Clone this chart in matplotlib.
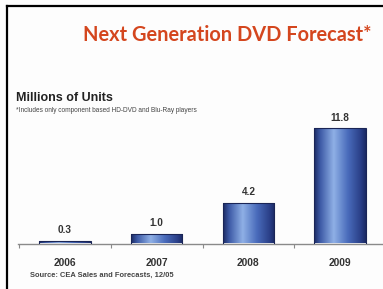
import matplotlib
matplotlib.use("Agg")
import matplotlib.pyplot as plt
import numpy as np
from matplotlib.colors import LinearSegmentedColormap
from matplotlib.patches import Rectangle
from matplotlib import font_manager
from matplotlib.font_manager import FontProperties
from matplotlib.textpath import TextPath

years = ["2006", "2007", "2008", "2009"]
units = [0.3, 1.0, 4.2, 11.8]
labels = ["0.3", "1.0", "4.2", "11.8"]

title = "Next Generation DVD Forecast*"
ylabel_txt = "Millions of Units"
note_txt = "*Includes only component based HD-DVD and Blu-Ray players"
source_txt = "Source: CEA Sales and Forecasts, 12/05"

names = {f.name for f in font_manager.fontManager.ttflist}
body_font = "Liberation Sans" if "Liberation Sans" in names else "DejaVu Sans"


def _wnum(w):
    try:
        return int(w)
    except Exception:
        return {"bold": 700, "heavy": 800, "black": 900, "semibold": 600,
                "demibold": 600, "extra bold": 800}.get(str(w).lower(), 400)


def pick_title_font(target_ratio):
    ok_fam = ("liberation sans", "roboto", "noto sans", "open sans", "lato", "inter", "dejavu sans")
    best = None
    seen = set()
    for f in font_manager.fontManager.ttflist:
        nm = f.name.lower()
        fn = f.fname.lower()
        if f.fname in seen:
            continue
        seen.add(f.fname)
        if not nm.startswith(ok_fam) or "mono" in nm or "cjk" in nm or "serif" in nm:
            continue
        if "italic" in fn or "oblique" in fn or str(f.style) != "normal":
            continue
        w = _wnum(f.weight)
        if w < 700 or w > 800:
            continue
        try:
            fp = FontProperties(fname=f.fname, size=20)
            cap = TextPath((0, 0), "N", prop=fp).get_extents().height
            wid = TextPath((0, 0), title, prop=fp).get_extents().width
        except Exception:
            continue
        ratio = cap / wid
        score = abs(ratio - target_ratio)
        if best is None or score < best[0]:
            best = (score, f.fname)
    if best is None:
        return FontProperties(family=body_font, weight="bold")
    return FontProperties(fname=best[1])


TITLE_W, TITLE_CAP = 289.0, 15.0
title_fp = pick_title_font(TITLE_CAP / TITLE_W)

W, H = 383, 289
fig = plt.figure(figsize=(W / 100, H / 100), dpi=100)
fig.patch.set_facecolor("#fdfdfd")

# border lines (top and left, black)
fig.add_artist(plt.Line2D([6.5 / W, 6.5 / W], [0, 1 - 6 / H], color="black", lw=1.6))
fig.add_artist(plt.Line2D([6.5 / W, 1], [1 - 6 / H, 1 - 6 / H], color="black", lw=1.6))

# axes placement
ax_left = 18 / W
ax_bottom = (H - 243.5) / H
ax_h = 135 / H
ax = fig.add_axes([ax_left, ax_bottom, 1 - ax_left, ax_h])
ax.set_facecolor("none")
for s in ["top", "right", "left"]:
    ax.spines[s].set_visible(False)
ax.spines["bottom"].set_color("#8a8a8a")
ax.spines["bottom"].set_linewidth(1.0)
ax.set_yticks([])
ax.set_xticks([-0.5, 0.5, 1.5, 2.5])
ax.tick_params(axis="x", length=3, color="#8a8a8a", labelbottom=False)

x = np.arange(len(years))
width = 0.56
bars = ax.bar(x, units, width=width, color="none", edgecolor="#1a2556", linewidth=0.8, zorder=3)

cmap = LinearSegmentedColormap.from_list(
    "barg", [(0.0, "#1b2a63"), (0.12, "#3d5aa6"), (0.38, "#8fb0e6"),
             (0.65, "#4a6cbc"), (0.9, "#2a3f88"), (1.0, "#1b2a63")])
grad = np.linspace(0, 1, 256).reshape(1, -1)
for b in bars:
    bx, by = b.get_x(), b.get_y()
    bw, bh = b.get_width(), b.get_height()
    im = ax.imshow(grad, cmap=cmap, aspect="auto", extent=[bx, bx + bw, by, by + bh],
                   zorder=2, interpolation="bilinear")
    clip = Rectangle((bx, by), bw, bh, transform=ax.transData)
    im.set_clip_path(clip)

for xi, v, lab in zip(x, units, labels):
    ax.annotate(lab, (xi, v), xytext=(0, 4), textcoords="offset points",
                ha="center", va="bottom", fontsize=7.2, fontweight="bold",
                color="#333333", family=body_font)
for xi, yr in zip(x, years):
    ax.annotate(yr, (xi, 0), xytext=(0, -10.5), textcoords="offset points",
                ha="center", va="top", fontsize=7.4, fontweight="bold",
                color="#333333", family=body_font, annotation_clip=False)

t = fig.text(227.5 / W, 1 - 35 / H, title, ha="center", va="center",
             fontproperties=title_fp, color="#d4461e")
t.set_fontsize(15)
fig.text(16 / W, 1 - 98 / H, ylabel_txt, ha="left", va="center", fontsize=9.0,
         fontweight="bold", color="#222222", family=body_font)
fig.text(16 / W, 1 - 111 / H, note_txt, ha="left", va="center", fontsize=4.7,
         color="#444444", family=body_font)
fig.text(30 / W, 1 - 275 / H, source_txt, ha="left", va="center", fontsize=5.4,
         fontweight="bold", color="#444444", family=body_font)

ax.set_xlim(-0.511, 3.467)
ax.set_ylim(0, 135 / 9.75)

# fit the title to the reference width
fig.canvas.draw()
r = fig.canvas.get_renderer()
wpx = t.get_window_extent(r).width
t.set_fontsize(15 * TITLE_W / wpx)

fig.savefig("out.png", dpi=100, facecolor=fig.get_facecolor())
